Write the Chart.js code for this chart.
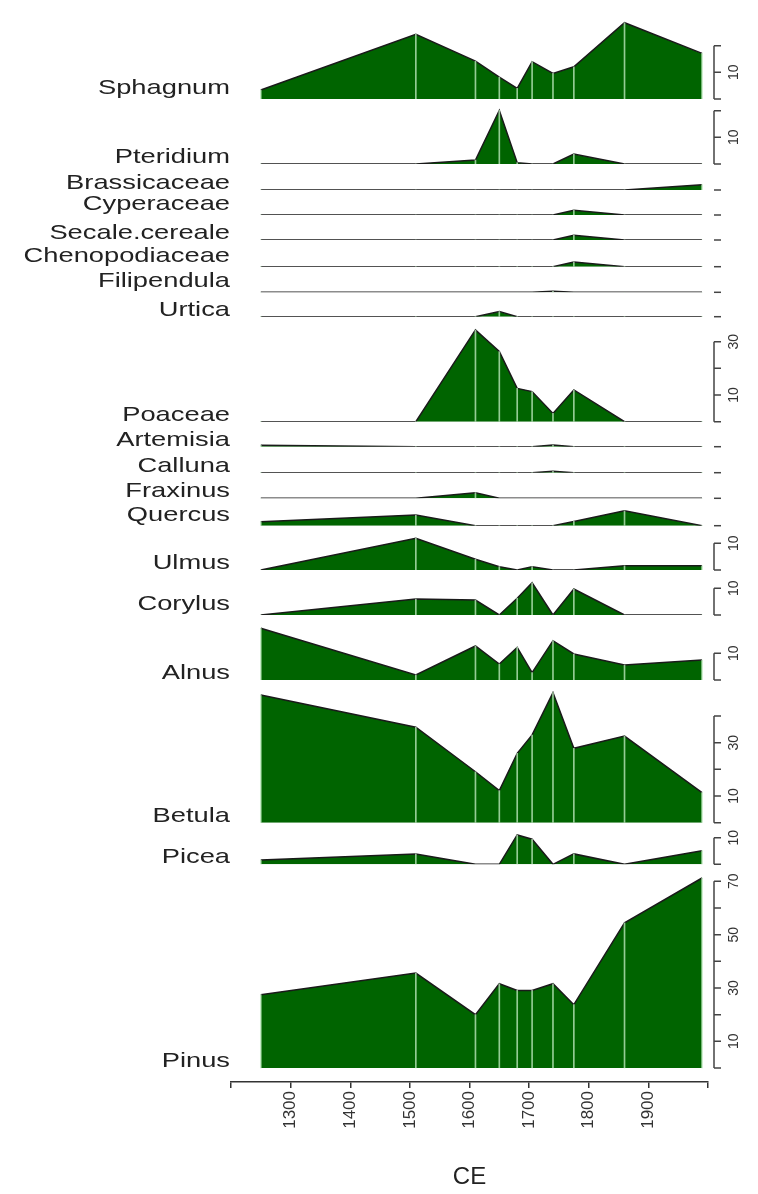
<!DOCTYPE html>
<html>
<head>
<meta charset="utf-8">
<script src="https://cdn.jsdelivr.net/npm/chart.js@4.4.1/dist/chart.umd.min.js"></script>
<style>
  html, body { margin: 0; padding: 0; background: #fff; }
  #contenedor { width: 758px; height: 1194px; position: relative; }
</style>
</head>
<body>
<div id="contenedor"><canvas id="graficoPolen"></canvas></div>
<script>
// Años de las muestras (CE)
const anios = [1250, 1510, 1610, 1650, 1680, 1705, 1740, 1775, 1860, 1990];

// Taxones, de arriba hacia abajo
const taxones = ['Sphagnum', 'Pteridium', 'Brassicaceae', 'Cyperaceae', 'Secale.cereale',
  'Chenopodiaceae', 'Filipendula', 'Urtica', 'Poaceae', 'Artemisia', 'Calluna',
  'Fraxinus', 'Quercus', 'Ulmus', 'Corylus', 'Alnus', 'Betula', 'Picea', 'Pinus'];

// Porcentajes de cada taxón (uno por muestra)
const sphagnum       = [3.4, 24.3, 14.2, 8.2, 4.0, 14.0, 9.6, 12.1, 28.6, 17.1];
const pteridium      = [0, 0, 1.5, 20.1, 0.5, 0, 0, 3.7, 0, 0];
const brassicaceae   = [0, 0, 0, 0, 0, 0, 0, 0, 0, 2.0];
const cyperaceae     = [0, 0, 0, 0, 0, 0, 0, 1.8, 0, 0];
const secaleCereale  = [0, 0, 0, 0, 0, 0, 0, 1.8, 0, 0];
const chenopodiaceae = [0, 0, 0, 0, 0, 0, 0, 1.8, 0, 0];
const filipendula    = [0, 0, 0, 0, 0, 0, 0.4, 0, 0, 0];
const urtica         = [0, 0, 0, 1.9, 0, 0, 0, 0, 0, 0];
const poaceae        = [0, 0, 34.4, 26.3, 12.5, 11.3, 3.1, 11.9, 0, 0];
const artemisia      = [0.5, 0, 0, 0, 0, 0, 0.6, 0, 0, 0];
const calluna        = [0, 0, 0, 0, 0, 0, 0.5, 0, 0, 0];
const fraxinus       = [0, 0, 2.1, 0, 0, 0, 0, 0, 0, 0];
const quercus        = [1.5, 4.0, 0, 0, 0, 0, 0, 1.6, 5.6, 0];
const ulmus          = [0, 11.9, 4.0, 1.25, 0, 1.25, 0, 0, 1.6, 1.6];
const corylus        = [0, 6.0, 5.6, 0, 6.3, 12.1, 0, 9.75, 0, 0];
const alnus          = [19.4, 1.9, 12.75, 6.0, 12.25, 2.75, 14.75, 9.75, 5.6, 7.5];
const betula         = [47.9, 35.8, 19.1, 12.0, 26.0, 32.9, 48.75, 27.9, 32.5, 11.25];
const picea          = [1.6, 3.9, 0, 0, 11.0, 9.4, 0, 3.9, 0, 5.1];
const pinus          = [27.5, 35.6, 20.0, 31.6, 29.1, 29.1, 31.6, 23.75, 54.4, 71.25];

const porcentajes = [sphagnum, pteridium, brassicaceae, cyperaceae, secaleCereale,
  chenopodiaceae, filipendula, urtica, poaceae, artemisia, calluna, fraxinus,
  quercus, ulmus, corylus, alnus, betula, picea, pinus];

// Eje x: marcas y etiquetas
const marcasX = [1200, 1300, 1400, 1500, 1600, 1700, 1800, 1900, 2000];
const etiquetasX = [1300, 1400, 1500, 1600, 1700, 1800, 1900];

// Maquetación: alto de cada panel en px (misma escala de % para todos)
const PX_POR_UNIDAD = 2.667;
const altoPanel = [85, 65, 26, 25, 25, 26.7, 25.6, 24.4, 105, 25, 26, 25.6, 27.4,
  44.3, 45, 65, 142.7, 41.6, 217.7];
const HUECO_INFERIOR = 14;  // espacio entre Pinus y el eje x

const VERDE = '#006400';
const FUENTE = '"Liberation Sans", Arial, sans-serif';

// Construir escalas apiladas (una por taxón)
const escalas = {
    x: {
        type: 'linear',
        position: 'bottom',
        min: 1200,
        max: 2000,
        offset: false,
        afterBuildTicks: escala => { escala.ticks = marcasX.map(v => ({ value: v })); },
        afterFit: escala => { escala.height = 112; },
        ticks: {
            autoSkip: false,
            minRotation: 90,
            maxRotation: 90,
            padding: 3,
            color: '#333',
            font: { family: FUENTE, size: 17 },
            callback: v => etiquetasX.includes(v) ? String(v) : ''
        },
        grid: { offset: false, drawOnChartArea: false, drawTicks: true, tickLength: 6, color: '#333', lineWidth: 1.5 },
        border: { display: true, color: '#333', width: 1.5 },
        title: {
            display: true,
            text: 'CE',
            color: '#222',
            font: { family: FUENTE, size: 24 },
            padding: { top: 0, bottom: 2 }
        }
    }
};

const datasets = [];
taxones.forEach((nombre, i) => {
    const alto = altoPanel[i];
    const hueco = (i === taxones.length - 1) ? HUECO_INFERIOR : 0;
    escalas['y' + i] = {
        type: 'linear',
        position: 'right',
        stack: 'taxones',
        stackWeight: alto,
        display: false,
        min: -hueco / PX_POR_UNIDAD,
        max: (alto - hueco) / PX_POR_UNIDAD
    };
    const puntos = anios.map((a, j) => ({ x: a, y: porcentajes[i][j] }));
    // Área del taxón
    datasets.push({
        type: 'line',
        label: nombre,
        data: puntos,
        xAxisID: 'x',
        yAxisID: 'y' + i,
        fill: 'origin',
        backgroundColor: VERDE,
        borderColor: '#1a1a1a',
        borderWidth: 1.5,
        pointRadius: 0,
        tension: 0,
        order: 2
    });
    // Líneas claras en cada muestra
    datasets.push({
        type: 'bar',
        label: nombre + ' muestras',
        data: puntos,
        xAxisID: 'x',
        yAxisID: 'y' + i,
        barThickness: 1,
        grouped: false,
        backgroundColor: 'rgba(185, 230, 185, 0.8)',
        order: 1
    });
});

// Nombres de taxones y ejes tipo corchete a la derecha
const pluginPaneles = {
    id: 'paneles',
    afterDraw(chart) {
        const ctx = chart.ctx;
        const area = chart.chartArea;
        ctx.save();
        taxones.forEach((nombre, i) => {
            const escala = chart.scales['y' + i];
            const base = escala.getPixelForValue(0);

            // nombre del taxón (algo ensanchado, como en el original)
            ctx.font = '21px ' + FUENTE;
            ctx.fillStyle = '#222';
            ctx.textAlign = 'right';
            ctx.textBaseline = 'alphabetic';
            const m = ctx.measureText(nombre);
            ctx.save();
            ctx.translate(area.left - 1, base - 1 - m.actualBoundingBoxDescent);
            ctx.scale(1.3, 1);
            ctx.fillText(nombre, 0, 0);
            ctx.restore();

            const tope = Math.floor(Math.max(...porcentajes[i]) / 10) * 10;
            const x0 = area.right + 6;
            ctx.strokeStyle = '#444';
            ctx.lineWidth = 1.5;
            ctx.beginPath();
            if (tope > 0) {
                ctx.moveTo(x0, base);
                ctx.lineTo(x0, escala.getPixelForValue(tope));
            }
            for (let v = 0; v <= tope; v += 10) {
                const y = escala.getPixelForValue(v);
                ctx.moveTo(x0, y);
                ctx.lineTo(x0 + 7, y);
            }
            ctx.stroke();

            ctx.font = '14px ' + FUENTE;
            ctx.fillStyle = '#333';
            ctx.textAlign = 'center';
            ctx.textBaseline = 'middle';
            for (let v = 10; v <= tope; v += 20) {
                const y = escala.getPixelForValue(v);
                ctx.save();
                ctx.translate(x0 + 20, y);
                ctx.rotate(-Math.PI / 2);
                ctx.fillText(String(v), 0, 0);
                ctx.restore();
            }
        });
        ctx.restore();
    }
};

document.addEventListener('DOMContentLoaded', () => {
    const ctx = document.getElementById('graficoPolen').getContext('2d');
    new Chart(ctx, {
        type: 'line',
        data: { datasets: datasets },
        options: {
            responsive: true,
            maintainAspectRatio: false,
            animation: false,
            layout: { padding: { top: 14, left: 231, right: 50, bottom: 0 } },
            scales: escalas,
            plugins: {
                legend: { display: false },
                tooltip: { enabled: false }
            }
        },
        plugins: [pluginPaneles]
    });
});
</script>
</body>
</html>
